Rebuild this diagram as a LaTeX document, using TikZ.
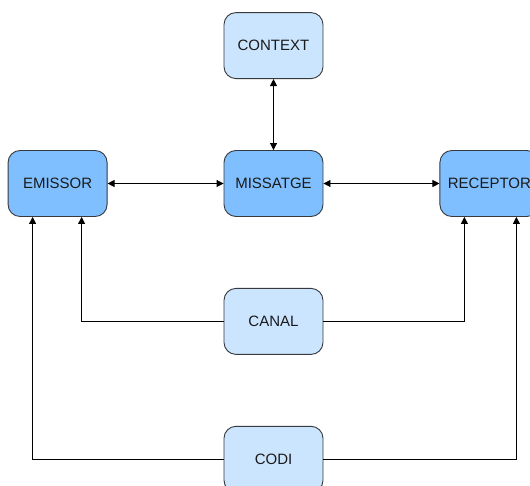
\documentclass[tikz,border=0pt]{standalone}
\usepackage{fontspec}
\setmainfont{Liberation Sans}
\usepackage{xcolor}
\usepackage{tikz}
\usetikzlibrary{arrows.meta,positioning,calc}

\definecolor{boxlight}{HTML}{CCE5FF}
\definecolor{boxdark}{HTML}{7FBFFF}
\definecolor{boxline}{HTML}{36393D}
\definecolor{boxtext}{HTML}{1A1A1A}

\begin{document}
\begin{tikzpicture}[
  blk/.style={
    draw=boxline, rectangle, rounded corners=12pt, line width=0.9pt,
    minimum width=99pt, minimum height=66pt, inner sep=0pt,
    align=center, font=\fontsize{15}{18}\selectfont, text=boxtext
  },
  lite/.style={blk, fill=boxlight},
  dark/.style={blk, fill=boxdark},
  lnk/.style={-{Triangle[length=7pt,width=7pt]}, line width=0.9pt},
  dbl/.style={{Triangle[length=7pt,width=7pt]}-{Triangle[length=7pt,width=7pt]}, line width=0.9pt},
]
\useasboundingbox (0,0) rectangle (530pt,-486pt);

\node[dark] (msg) at (273.5pt,-183.5pt) {MISSATGE};

\node[lite, above=71pt of msg] (ctx) {CONTEXT};
\node[dark, left=116pt of msg] (emi) {EMISSOR};
\node[dark, right=116pt of msg] (rec) {RECEPTOR};
\node[lite, below=71pt of msg] (canal) {CANAL};
\node[lite, below=71pt of canal] (codi) {CODI};

%% message links
\draw[dbl] (ctx) -- (msg);
\draw[dbl] (emi) -- (msg);
\draw[dbl] (msg) -- (rec);

%% channel
\draw[lnk] (canal.west) -| ([xshift=24pt]emi.south);
\draw[lnk] (canal.east) -| ([xshift=-25pt]rec.south);

%% code
\draw[lnk] (codi.west) -| ([xshift=-25pt]emi.south);
\draw[lnk] (codi.east) -| ([xshift=27pt]rec.south);
\end{tikzpicture}
\end{document}
